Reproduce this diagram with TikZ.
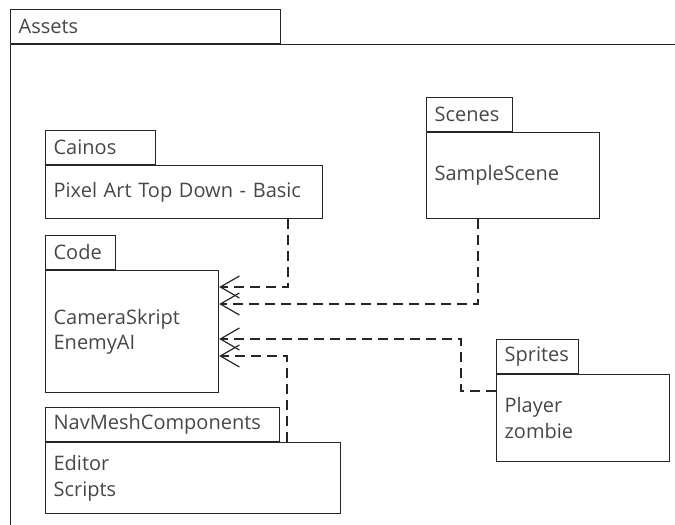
\documentclass[tikz,border=0pt]{standalone}
\usepackage{fontspec}
\setmainfont{Open Sans}
\usetikzlibrary{arrows.meta,calc,positioning}

\begin{document}
\begin{tikzpicture}[x=1pt, y=-1pt, font=\fontsize{20}{25.5}\selectfont,
    tab/.style={draw=black!85, line width=1.2pt, anchor=south west, align=left,
        inner xsep=8pt, inner ysep=0pt, minimum height=34pt, text=black!72, text width=#1},
    pkg/.style={draw=black!85, line width=1.2pt, anchor=north west, align=left,
        inner xsep=8pt, inner ysep=0pt, text=black!72},
    dep/.style={draw=black!85, line width=1.2pt, dash pattern=on 10pt off 6pt,
        -{Straight Barb[length=19pt, width=22pt, line width=1.2pt]}}]
    \useasboundingbox (0,0) rectangle (675,525);

    % Outer package
    \node[pkg, text width=684pt, minimum height=520pt] (assets) at (10,44) {};
    \node[tab=254pt] (assetstab) at (assets.north west) {Assets};

    % Packages on the left
    \node[pkg, text width=261pt, minimum height=53pt] (cainos) at (45,165) {Pixel Art Top Down - Basic};
    \node[tab=94pt] (cainostab) at (cainos.north west) {Cainos};

    \node[pkg, text width=157pt, minimum height=122pt] (code) at (45,270) {CameraSkript\\EnemyAI};
    \node[tab=54pt] (codetab) at (code.north west) {Code};

    \node[pkg, text width=279pt, minimum height=71pt] (navmesh) at (45,442) {Editor\\Scripts};
    \node[tab=218pt] (navmeshtab) at (navmesh.north west) {NavMeshComponents};

    % Packages on the right
    \node[pkg, text width=157pt, minimum height=86pt] (scenes) at (426,132) {SampleScene};
    \node[tab=70pt] (scenestab) at (scenes.north west) {Scenes};

    \node[pkg, text width=157pt, minimum height=87pt] (sprites) at (496,374) {Player\\zombie};
    \node[tab=66pt] (spritestab) at (sprites.north west) {Sprites};

    % Dependencies into Code
    \draw[dep] ($(cainos.south west)+(243,0)$) |- ($(code.north east)+(0,17)$);
    \draw[dep] ($(scenes.south west)+(52,0)$) |- ($(code.north east)+(0,34)$);
    \draw[dep] ($(sprites.north west)+(0,17)$) -- ++(-35,0) |- ($(code.north east)+(0,69)$);
    \draw[dep] ($(navmesh.north west)+(242,0)$) |- ($(code.north east)+(0,86)$);
\end{tikzpicture}
\end{document}
